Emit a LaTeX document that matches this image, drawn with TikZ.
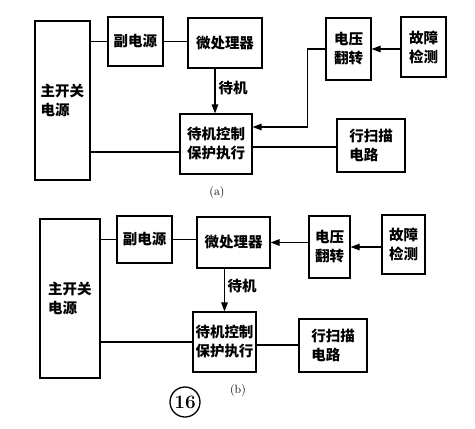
\documentclass[tikz,border=0pt]{standalone}
\usepackage{fontspec}
\newfontfamily\cjk{Noto Sans CJK SC}
\usetikzlibrary{arrows.meta,calc}
\tikzset{
  blk/.style={draw, line width=1.1pt, inner sep=0pt, font=\cjk\bfseries\fontsize{14.5}{19}\selectfont, align=center},
  ln/.style={line width=1.1pt},
  arr/.style={line width=1.1pt, -{Triangle[length=9pt,width=6.5pt]}},
  lbl/.style={font=\cjk\bfseries\fontsize{14.5}{19}\selectfont, inner sep=0pt},
  captxt/.style={font=\fontsize{12}{14}\selectfont, inner sep=0pt},
}
\begin{document}
\begin{tikzpicture}[x=1pt,y=-1pt]
\useasboundingbox (0,0) rectangle (475,429);
% ---------- (a) ----------
\node[blk, minimum width=55pt, minimum height=159pt, align=left] (msa) at (62.5,100.5) {主开关\\电源};
\node[blk, minimum width=55pt, minimum height=49pt] (suba) at (135.5,41.5) {副电源};
\node[blk, minimum width=74pt, minimum height=50pt] (cpua) at (225,43) {微处理器};
\node[blk, minimum width=45pt, minimum height=62pt] (vfa) at (348.5,49) {电压\\翻转};
\node[blk, minimum width=45pt, minimum height=60pt] (fda) at (423.5,47) {故障\\检测};
\node[blk, minimum width=72pt, minimum height=60pt] (sba) at (216,144) {待机控制\\保护执行};
\node[blk, minimum width=68pt, minimum height=53pt, align=left] (hsa) at (371,145.5) {行扫描\\电路};
\node[lbl] (la) at (233,88) {待机};
\node[captxt] (capa) at (217,193) {(a)};
\draw[ln] (suba.west -| msa.east) -- (suba.west);
\draw[ln] (suba.east) -- (suba.east -| cpua.west);
\draw[arr] ([xshift=-10pt]cpua.south) -- ([xshift=-10pt]cpua.south |- sba.north);
\draw[arr] (fda.west |- vfa.east) -- (vfa.east);
\draw[arr] (vfa.west) -- ++(-18,0) |- ([yshift=17pt]sba.east);
\draw[ln] ([yshift=-8pt]sba.west -| msa.east) -- ([yshift=-8pt]sba.west);
\draw[ln] ([yshift=-3pt]sba.east) -- ([yshift=-3pt]sba.east -| hsa.west);
% ---------- (b) ----------
\node[blk, minimum width=60pt, minimum height=159pt, align=left] (msb) at (70,298.5) {主开关\\电源};
\node[blk, minimum width=55pt, minimum height=47pt] (subb) at (144.5,239.5) {副电源};
\node[blk, minimum width=73pt, minimum height=51pt] (cpub) at (233.5,242.5) {微处理器};
\node[blk, minimum width=41pt, minimum height=62pt] (vfb) at (329.5,247) {电压\\翻转};
\node[blk, minimum width=43pt, minimum height=59pt] (fdb) at (403.5,244.5) {故障\\检测};
\node[blk, minimum width=63pt, minimum height=60pt] (sbb) at (224.5,342) {待机控制\\保护执行};
\node[blk, minimum width=68pt, minimum height=53pt, align=left] (hsb) at (333,345.5) {行扫描\\电路};
\node[lbl] (lb) at (242,286) {待机};
\node[captxt] (capb) at (238,391) {(b)};
\node[draw, circle, line width=1.3pt, minimum size=30pt, inner sep=0pt, font=\bfseries\fontsize{19}{19}\selectfont] (fig) at (185,402) {16};
\draw[ln] (subb.west -| msb.east) -- (subb.west);
\draw[ln] (subb.east) -- (subb.east -| cpub.west);
\draw[arr] (vfb.west |- cpub.east) -- (cpub.east);
\draw[arr] (fdb.west |- vfb.east) -- (vfb.east);
\draw[arr] (sbb.north |- cpub.south) -- (sbb.north);
\draw[ln] (sbb.west -| msb.east) -- (sbb.west);
\draw[ln] ([yshift=-3pt]sbb.east) -- ([yshift=-3pt]sbb.east -| hsb.west);
\end{tikzpicture}
\end{document}
